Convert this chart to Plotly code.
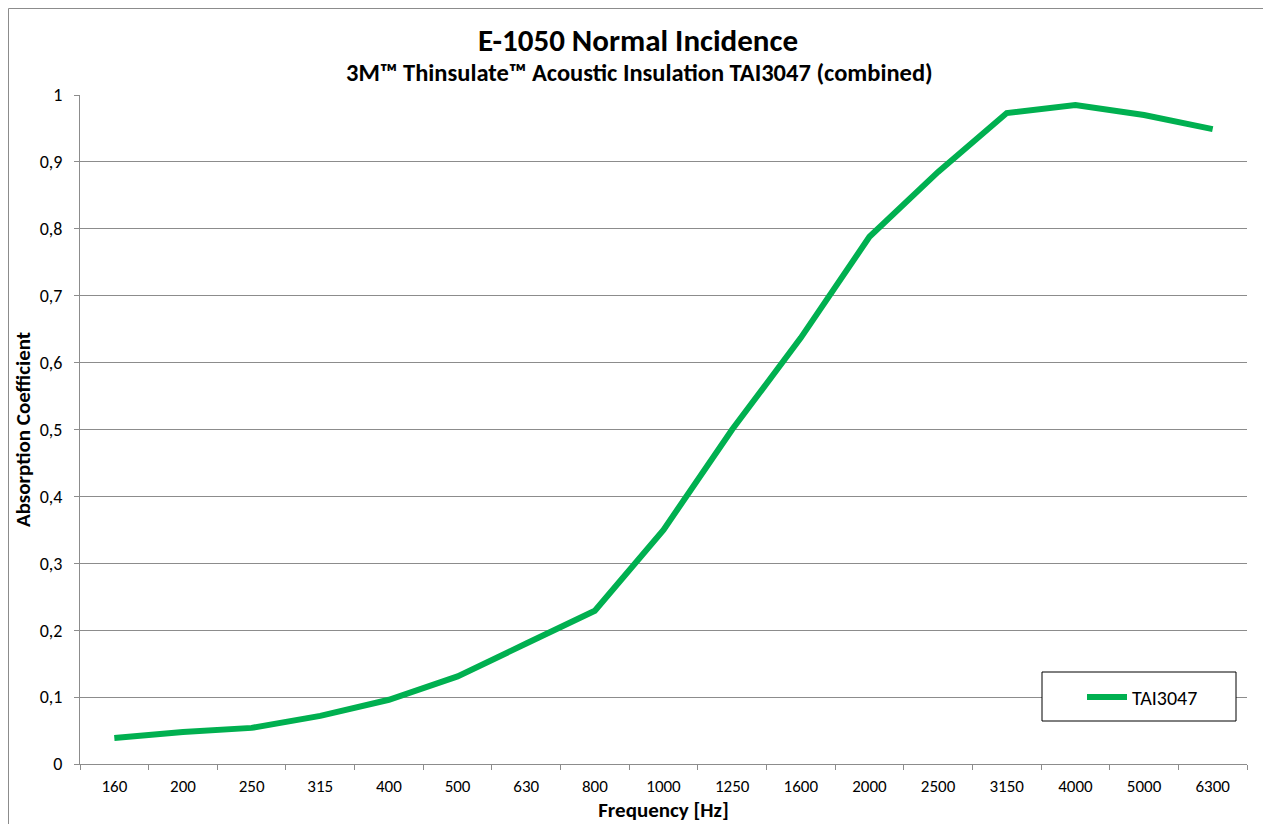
import plotly.graph_objects as go

categories = ["160", "200", "250", "315", "400", "500", "630", "800", "1000", "1250",
              "1600", "2000", "2500", "3150", "4000", "5000", "6300"]
tai3047 = [0.039, 0.048, 0.054, 0.072, 0.096, 0.131, 0.180, 0.229, 0.350, 0.500,
           0.637, 0.788, 0.885, 0.973, 0.985, 0.970, 0.949]
series_name = "TAI3047"
title_text = "E-1050 Normal Incidence"
subtitle_text = "3M™ Thinsulate™ Acoustic Insulation TAI3047 (combined)"
x_title = "Frequency [Hz]"
y_title = "Absorption Coefficient"

FONT = "Carlito, Lato, 'Open Sans', sans-serif"
GRID = "#8c8c8c"

OFF = 8  # page body margin
W, H = 1271 - OFF, 824 - OFF
L, R, T, B = 80 - OFF, 24, 95 - OFF, 60
pw, ph = W - L - R, H - T - B

def px(x):
    return (x - OFF - L) / pw

def py(y):
    return (H - B - (y - OFF)) / ph

fig = go.Figure()
fig.add_trace(go.Scatter(
    x=categories, y=tai3047, mode="lines", name=series_name,
    line=dict(color="#00B050", width=6),
))

fig.update_layout(
    width=W, height=H,
    margin=dict(l=L, r=R, t=T, b=B),
    paper_bgcolor="white", plot_bgcolor="white",
    separators=", ",
    font=dict(family=FONT, size=17, color="black"),
    showlegend=True,
    legend=dict(x=px(1082), y=py(697), xanchor="left", yanchor="middle",
                bgcolor="rgba(0,0,0,0)", borderwidth=0,
                font=dict(family=FONT, size=20, color="black"), itemwidth=40),
    xaxis=dict(
        type="category", showgrid=False, showline=True, linecolor=GRID, linewidth=1,
        ticks="outside", ticklen=5, tickcolor=GRID, tickson="boundaries",
        tickfont=dict(family=FONT, size=17), range=[-0.5, 16.5],
        ticklabelstandoff=7,
        title=dict(text="<b>" + x_title + "</b>", font=dict(family=FONT, size=21), standoff=0),
    ),
    yaxis=dict(
        range=[0, 1], dtick=0.1, showgrid=True, gridcolor=GRID, gridwidth=1,
        showline=True, linecolor=GRID, linewidth=1, zeroline=False,
        ticks="outside", ticklen=5, tickcolor=GRID,
        tickfont=dict(family=FONT, size=18), ticklabelstandoff=8,
        title=dict(text="<b>" + y_title + "</b>", font=dict(family=FONT, size=21), standoff=3),
    ),
    annotations=[
        dict(text="<b>" + title_text + "</b>", x=px(638), y=py(40), xref="paper", yref="paper",
             xanchor="center", yanchor="middle", showarrow=False,
             font=dict(family=FONT, size=31, color="black")),
        dict(text="<b>" + subtitle_text + "</b>", x=px(639), y=py(73), xref="paper", yref="paper",
             xanchor="center", yanchor="middle", showarrow=False,
             font=dict(family=FONT, size=24.5, color="black")),
    ],
    shapes=[
        dict(type="rect", xref="paper", yref="paper", x0=px(1042), x1=px(1236),
             y0=py(721), y1=py(672), fillcolor="white", line=dict(color="black", width=1),
             layer="above"),
        dict(type="rect", xref="paper", yref="paper", x0=px(8.5), x1=px(1267),
             y0=py(840), y1=py(8.5), fillcolor="rgba(0,0,0,0)", line=dict(color="#8c8c8c", width=1),
             layer="above"),
    ],
)

fig.write_html("out.html")
